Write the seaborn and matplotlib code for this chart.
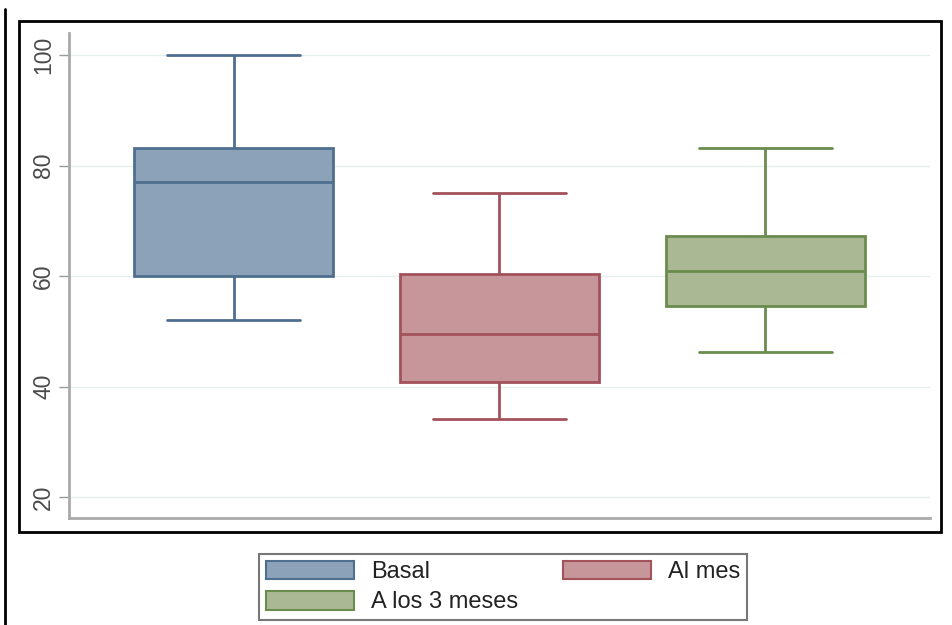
import numpy as np
import pandas as pd
import matplotlib
matplotlib.use("Agg")
import matplotlib.pyplot as plt
from matplotlib.patches import Patch, Rectangle
from matplotlib.lines import Line2D
import seaborn as sns

# Five-number summaries per group: lower whisker, Q1, median, Q3, upper whisker
grupos = ["Basal", "Al mes", "A los 3 meses"]
basal = [52, 60, 77, 83.2, 100]
al_mes = [34.2, 40.8, 49.6, 60.3, 75]
tres_meses = [46.3, 54.5, 60.9, 67.2, 83.2]
y_ticks = [20, 40, 60, 80, 100]

fills = ["#8CA2B9", "#C6969A", "#AAB994"]
edges = ["#4F6F8F", "#A3525C", "#6A8C4E"]

df = pd.DataFrame({
    "grupo": np.repeat(grupos, 5),
    "valor": basal + al_mes + tres_meses,
})

sns.set_theme(style="white")
plt.rcParams["font.family"] = ["Liberation Sans", "DejaVu Sans"]

W, H = 952, 625
fig = plt.figure(figsize=(W / 100, H / 100), dpi=100)
fig.patch.set_facecolor("white")

ax_l, ax_r, ax_t, ax_b = 69, 930, 33, 518
ax = fig.add_axes([ax_l / W, 1 - ax_b / H, (ax_r - ax_l) / W, (ax_b - ax_t) / H])

box_w = 0.75
cap_w = 0.5
for g, fc, ec in zip(grupos, fills, edges):
    sns.boxplot(
        data=df[df["grupo"] == g], x="grupo", y="valor", order=grupos,
        color=fc, linecolor=ec, linewidth=2, width=box_w, whis=(0, 100),
        saturation=1, showfliers=False, ax=ax,
    )

# widen the whisker caps (horizontal segments narrower than the box)
for line in ax.lines:
    xd = np.asarray(line.get_xdata(), dtype=float)
    yd = np.asarray(line.get_ydata(), dtype=float)
    if len(xd) == 2 and yd[0] == yd[1]:
        span = abs(xd[1] - xd[0])
        if 0.05 < span < box_w * 0.9:
            c = xd.mean()
            line.set_xdata([c - cap_w / 2, c + cap_w / 2])

ax.set_xlim(-0.62, 2.62)
ax.set_ylim(16.2, 104)
ax.set_yticks(y_ticks)
ax.set_yticklabels([str(v) for v in y_ticks], rotation=90, va="center",
                   fontsize=16.5, color="#4A4A4A")
ax.set_xticks([])
ax.set_xlabel("")
ax.set_ylabel("")
ax.grid(axis="y", color="#E6EFEF", linewidth=1)
ax.set_axisbelow(True)
ax.tick_params(axis="y", left=True, length=7, width=1, color="#999999", pad=3)
for s in ["top", "right"]:
    ax.spines[s].set_visible(False)
for s in ["left", "bottom"]:
    ax.spines[s].set_color("#AAAAAA")
    ax.spines[s].set_linewidth(2)

# outer frame around the plot region and the left rule
fig.add_artist(Rectangle((19 / W, 1 - 532 / H), (941 - 19) / W, (532 - 21) / H,
                         transform=fig.transFigure, fill=False,
                         edgecolor="black", linewidth=2))
fig.add_artist(Line2D([5 / W, 5 / W], [0, 1 - 9 / H], transform=fig.transFigure,
                      color="black", linewidth=2))

# legend: Basal / Al mes on first row, A los 3 meses on second
order = [0, 2, 1]
handles = [Patch(facecolor=fills[i], edgecolor=edges[i], linewidth=1.5) for i in order]
labels = [grupos[i] for i in order]
leg = fig.legend(handles, labels, ncol=2, loc="center",
                 bbox_to_anchor=(503 / W, 1 - 587 / H), fontsize=17,
                 frameon=True, fancybox=False, handlelength=3.75,
                 handleheight=0.85, handletextpad=0.7, columnspacing=1.9,
                 labelspacing=0.32, borderpad=0.28)
leg.get_frame().set_edgecolor("#555555")
leg.get_frame().set_linewidth(1.5)
for t in leg.get_texts():
    t.set_color("#222222")

fig.savefig("out.png", dpi=100)
